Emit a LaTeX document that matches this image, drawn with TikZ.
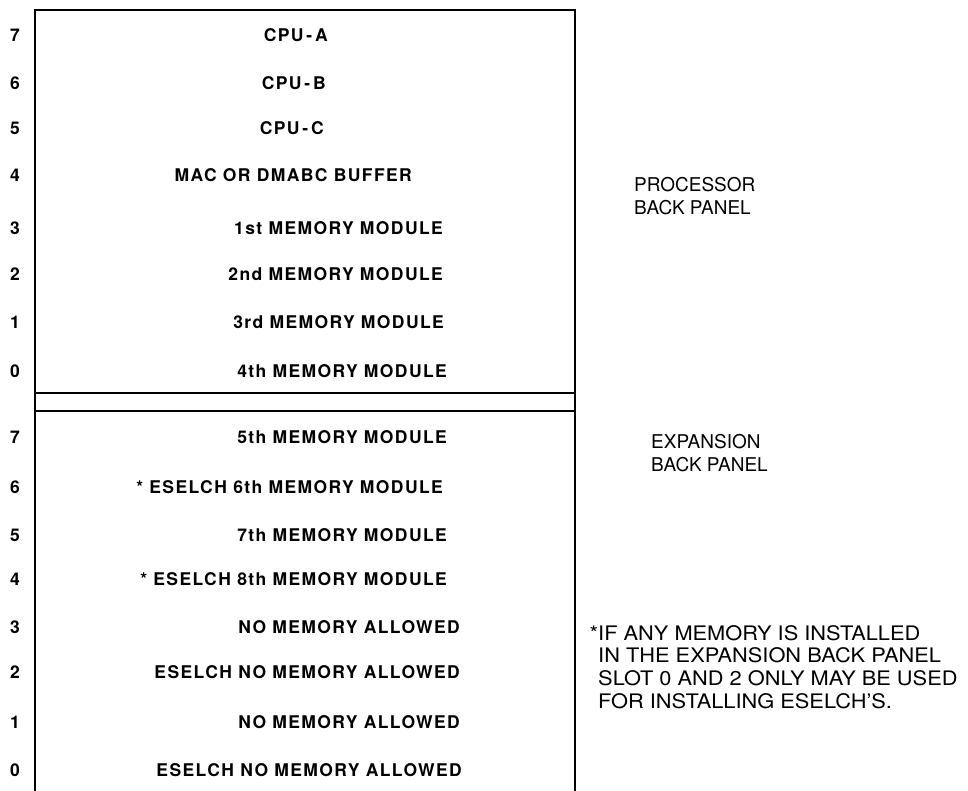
\documentclass[tikz,border=0pt]{standalone}
\usepackage{fontspec}
\setmainfont{TeX Gyre Heros}
\newfontfamily\cardfont[LetterSpace=8]{TeX Gyre Heros}
\newfontfamily\notefont[FakeStretch=1.09]{TeX Gyre Heros}
\usetikzlibrary{positioning}

\begin{document}
\begin{tikzpicture}[x=1pt,y=-1pt,
    slot/.style={font=\cardfont\bfseries\fontsize{17.5}{19}\selectfont,inner sep=0pt},
    card/.style={slot,anchor=east},
    panel/.style={font=\fontsize{19}{22.8}\selectfont,align=left,inner sep=0pt,anchor=west},
    note/.style={panel,font=\notefont\fontsize{20}{22.6}\selectfont}]
    \useasboundingbox (0,0) rectangle (968,791);
    % card cage
    \draw[line width=2.6pt] (35,791)--(35,10)--(575,10)--(575,791);
    \draw[line width=1.3pt] (35,393)--(575,393) (35,411)--(575,411);
    % processor back panel
    \foreach \n/\y/\x/\txt in {7/35/328/CPU\,-\,A, 6/83/326/CPU\,-\,B, 5/128/324/CPU\,-\,C,
        4/175/412/MAC OR DMABC BUFFER, 3/228/443/1st MEMORY MODULE,
        2/274/443/2nd MEMORY MODULE, 1/322/444/3rd MEMORY MODULE,
        0/371/447/4th MEMORY MODULE} {
      \node[slot] (pslot\n) at (15,\y) {\n};
      \node[card] (pcard\n) at (\x,\y) {\txt};
    }
    % expansion back panel
    \foreach \n/\y/\x/\txt in {7/437/447/5th MEMORY MODULE,
        6/487/443/* ESELCH 6th MEMORY MODULE, 5/535/447/7th MEMORY MODULE,
        4/579/447/* ESELCH 8th MEMORY MODULE, 3/627/460/NO MEMORY ALLOWED,
        2/672/460/ESELCH NO MEMORY ALLOWED, 1/722/460/NO MEMORY ALLOWED,
        0/770/462/ESELCH NO MEMORY ALLOWED} {
      \node[slot] (eslot\n) at (15,\y) {\n};
      \node[card] (ecard\n) at (\x,\y) {\txt};
    }
    \node[panel] (proc) at (634,196) {PROCESSOR\\BACK PANEL};
    \node[panel] (expn) at (651,453) {EXPANSION\\BACK PANEL};
    \node[note] (foot) at (598,667) {\llap{*}IF ANY MEMORY IS INSTALLED\\
      IN THE EXPANSION BACK PANEL\\SLOT 0 AND 2 ONLY MAY BE USED\\
      FOR INSTALLING ESELCH’S.};
\end{tikzpicture}
\end{document}
